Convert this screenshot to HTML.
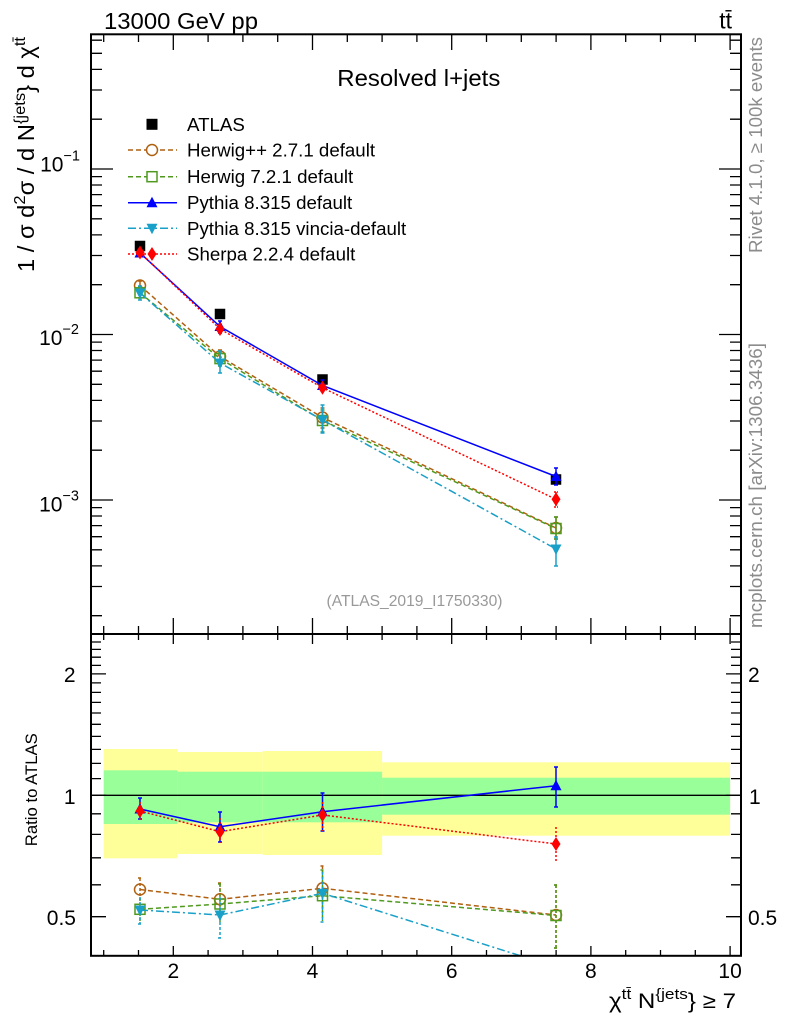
<!DOCTYPE html>
<html><head><meta charset="utf-8"><style>html,body{margin:0;padding:0;background:#fff}svg{display:block}</style></head>
<body>
<svg width="786" height="1024" viewBox="0 0 786 1024" xmlns="http://www.w3.org/2000/svg" xmlns:xlink="http://www.w3.org/1999/xlink" font-family="'Liberation Sans','DejaVu Sans',sans-serif">
<defs>
<clipPath id="cm"><rect x="91" y="34" width="650" height="600"/></clipPath>
<clipPath id="cr"><rect x="91" y="634" width="650" height="322"/></clipPath>
<g id="mly" stroke="#000" stroke-width="1.3" fill="none">
<path d="M91 119.2h11M91 90h11M91 69.4h11M91 53.3h11M91 40.2h11M91 284.7h11M91 255.5h11M91 234.9h11M91 218.8h11M91 205.7h11M91 194.6h11M91 185h11M91 176.6h11M91 450.2h11M91 421h11M91 400.4h11M91 384.3h11M91 371.2h11M91 360.1h11M91 350.5h11M91 342.1h11M91 615.7h11M91 586.5h11M91 565.9h11M91 549.8h11M91 536.7h11M91 525.6h11M91 516h11M91 507.6h11M91 169h22M91 334.5h22M91 500h22"/>
</g>
<g id="mtx" stroke="#000" stroke-width="1.3" fill="none">
<path d="M103.7 34v8M138.5 34v8M208.1 34v8M242.9 34v8M277.7 34v8M347.3 34v8M382.1 34v8M416.9 34v8M486.5 34v8M521.3 34v8M556.1 34v8M625.7 34v8M660.5 34v8M695.3 34v8M173.3 34v16M312.5 34v16M451.7 34v16M590.9 34v16M730.1 34v16"/>
</g>
<g id="rtx" stroke="#000" stroke-width="1.3" fill="none">
<path d="M103.7 634v6M138.5 634v6M208.1 634v6M242.9 634v6M277.7 634v6M347.3 634v6M382.1 634v6M416.9 634v6M486.5 634v6M521.3 634v6M556.1 634v6M625.7 634v6M660.5 634v6M695.3 634v6M173.3 634v10M312.5 634v10M451.7 634v10M590.9 634v10M730.1 634v10"/>
</g>
<g id="rly" stroke="#000" stroke-width="1.3" fill="none">
<path d="M91 642h10M91 649.4h10M91 657.2h10M91 665.4h10M91 682.9h10M91 692.4h10M91 702.4h10M91 713h10M91 724.3h10M91 736.4h10M91 749.4h10M91 763.4h10M91 778.6h10M91 813.8h10M91 834.4h10M91 857.8h10M91 884.8h10M91 673.9h15M91 795.3h15M91 916.7h15"/>
</g>
</defs>

<!-- ratio bands -->
<g>
<rect x="103.7" y="749" width="73.6" height="109.3" fill="#ffff99"/>
<rect x="177.3" y="752" width="85.4" height="102" fill="#ffff99"/>
<rect x="262.7" y="751" width="119.4" height="104" fill="#ffff99"/>
<rect x="382.1" y="762.3" width="348" height="73.4" fill="#ffff99"/>
<rect x="103.7" y="770.3" width="73.6" height="53.7" fill="#99ff99"/>
<rect x="177.3" y="771.7" width="85.4" height="50.6" fill="#99ff99"/>
<rect x="262.7" y="771.7" width="119.4" height="50.6" fill="#99ff99"/>
<rect x="382.1" y="777.7" width="348" height="37" fill="#99ff99"/>
</g>
<line x1="91" y1="795.3" x2="741" y2="795.3" stroke="#000" stroke-width="1.3"/>

<!-- ticks -->
<use xlink:href="#mly"/>
<use xlink:href="#mly" transform="translate(832,0) scale(-1,1)"/>
<use xlink:href="#mtx"/>
<use xlink:href="#mtx" transform="translate(0,668) scale(1,-1)"/>
<use xlink:href="#rtx"/>
<use xlink:href="#rtx" transform="translate(0,1590) scale(1,-1)"/>
<use xlink:href="#rly"/>
<use xlink:href="#rly" transform="translate(832,0) scale(-1,1)"/>

<!-- main panel data -->
<g clip-path="url(#cm)">
<rect x="134.75" y="240.75" width="10.5" height="10.5" fill="#000"/>
<rect x="214.75" y="308.75" width="10.5" height="10.5" fill="#000"/>
<rect x="317.25" y="374.25" width="10.5" height="10.5" fill="#000"/>
<rect x="550.75" y="474.25" width="10.5" height="10.5" fill="#000"/>

<!-- Herwig++ -->
<g stroke="#b06010" stroke-width="1.5" fill="none">
<polyline points="140,285.5 220,356.5 322.5,417.5 556,528" stroke-dasharray="5,3"/>
<path d="M140 281v10M220 350v12M322.5 408v20M556 517v22M138 281h4M138 291h4M218 350h4M218 362h4M320.5 408h4M320.5 428h4M554 517h4M554 539h4"/>
<circle cx="140" cy="285.5" r="5.5"/><circle cx="220" cy="356.5" r="5.5"/><circle cx="322.5" cy="417.5" r="5.5"/><circle cx="556" cy="528" r="5.5"/>
</g>
<!-- Herwig 7 -->
<g stroke="#4f9a1e" stroke-width="1.5" fill="none">
<polyline points="140,292.8 220,358.6 322.5,420.5 556,528.5" stroke-dasharray="5,3"/>
<path d="M140 287v11M220 352v14M322.5 410v22M556 517v22M138 287h4M138 298h4M218 352h4M218 366h4M320.5 410h4M320.5 432h4M554 517h4M554 539h4"/>
<rect x="135" y="287.8" width="10" height="10"/><rect x="215" y="353.6" width="10" height="10"/><rect x="317.5" y="415.5" width="10" height="10"/><rect x="551" y="523.5" width="10" height="10"/>
</g>
<!-- Pythia -->
<g stroke="#0000ff" stroke-width="1.5" fill="none">
<polyline points="140,253 220,326.5 322.5,385.5 556,476.5"/>
<path d="M140 249v8M220 321v12M322.5 380v11M556 468v17M218 321h4M218 333h4M320.5 380h4M320.5 391h4M554 468h4M554 485h4"/>
</g>
<g fill="#0000ff">
<polygon points="134.5,257.5 145.5,257.5 140,247"/><polygon points="214.5,331 225.5,331 220,320.5"/><polygon points="317,390 328,390 322.5,379.5"/><polygon points="550.5,481 561.5,481 556,470.5"/>
</g>
<!-- Vincia -->
<g stroke="#19a0c8" stroke-width="1.5" fill="none">
<polyline points="140,293 220,363 322.5,420 556,549" stroke-dasharray="8,3,2,3"/>
<path d="M140 286v14M220 351v22M322.5 405v28M556 537v29M138 286h4M138 300h4M218 351h4M218 373h4M320.5 405h4M320.5 433h4M554 537h4M554 566h4"/>
</g>
<g fill="#19a0c8">
<polygon points="134.5,288.5 145.5,288.5 140,299"/><polygon points="214.5,358.5 225.5,358.5 220,369"/><polygon points="317,415.5 328,415.5 322.5,426"/><polygon points="550.5,544.5 561.5,544.5 556,555"/>
</g>
<!-- Sherpa -->
<g stroke="#ff0000" stroke-width="1.5" fill="none">
<polyline points="140,252.5 220,329 322.5,387.8 556,499.3" stroke-dasharray="2,2"/>
<path d="M556 492v15M554 492h4M554 507h4" stroke-dasharray="2,1"/>
</g>
<g fill="#ff0000">
<polygon points="140,245.5 144.5,252.5 140,259.5 135.5,252.5"/><polygon points="220,322 224.5,329 220,336 215.5,329"/><polygon points="322.5,380.8 327,387.8 322.5,394.8 318,387.8"/><polygon points="556,492.3 560.5,499.3 556,506.3 551.5,499.3"/>
</g>
</g>

<!-- ratio panel data -->
<g clip-path="url(#cr)">
<g stroke="#b06010" stroke-width="1.5" fill="none">
<polyline points="140,889.5 220,899.3 322.5,888.3 556,915" stroke-dasharray="5,3"/>
<path d="M140 878v22M220 883v32M322.5 866v47M556 885v63M138 878h4M218 883h4M320.5 866h4M554 885h4M554 948h4" stroke-dasharray="3,2"/>
<circle cx="140" cy="889.5" r="5.5"/><circle cx="220" cy="899.3" r="5.5"/><circle cx="322.5" cy="888.3" r="5.5"/><circle cx="556" cy="915" r="5.5"/>
</g>
<g stroke="#4f9a1e" stroke-width="1.5" fill="none">
<polyline points="140,909.3 220,904 322.5,895.7 556,915.5" stroke-dasharray="5,3"/>
<path d="M140 898v24M220 884v39M322.5 870v51M556 885v63M218 884h4M320.5 870h4M554 885h4M554 948h4" stroke-dasharray="3,2"/>
<rect x="135" y="904.3" width="10" height="10"/><rect x="215" y="899" width="10" height="10"/><rect x="317.5" y="890.7" width="10" height="10"/><rect x="551" y="910.5" width="10" height="10"/>
</g>
<g stroke="#0000ff" stroke-width="1.5" fill="none">
<polyline points="140,809 220,826.7 322.5,811.7 556,785.7"/>
<path d="M140 798v21M220 812v30M322.5 793v38M556 767v40M138 798h4M138 819h4M218 812h4M218 842h4M320.5 793h4M320.5 831h4M554 767h4M554 807h4"/>
</g>
<g fill="#0000ff">
<polygon points="134.5,813.5 145.5,813.5 140,803"/><polygon points="214.5,831.2 225.5,831.2 220,820.7"/><polygon points="317,816.2 328,816.2 322.5,805.7"/><polygon points="550.5,790.2 561.5,790.2 556,779.7"/>
</g>
<g stroke="#19a0c8" stroke-width="1.5" fill="none">
<polyline points="140,910 220,915 322.5,893.3 556,967" stroke-dasharray="8,3,2,3"/>
<path d="M140 897v27M220 897v41M322.5 872v50M138 924h4M218 938h4M320.5 922h4" stroke-dasharray="3,2"/>
</g>
<g fill="#19a0c8">
<polygon points="134.5,905.5 145.5,905.5 140,916"/><polygon points="214.5,910.5 225.5,910.5 220,921"/><polygon points="317,888.8 328,888.8 322.5,899.3"/>
</g>
<g stroke="#ff0000" stroke-width="1.5" fill="none">
<polyline points="140,811 220,831.7 322.5,815 556,844" stroke-dasharray="2,2"/>
<path d="M140 802v20M220 818v25M322.5 802v29M556 827v35" stroke-dasharray="2,2"/>
</g>
<g fill="#ff0000">
<polygon points="140,804 144.5,811 140,818 135.5,811"/><polygon points="220,824.7 224.5,831.7 220,838.7 215.5,831.7"/><polygon points="322.5,808 327,815 322.5,822 318,815"/><polygon points="556,837 560.5,844 556,851 551.5,844"/>
</g>
</g>

<!-- frames -->
<rect x="91" y="34.3" width="650" height="599.7" fill="none" stroke="#000" stroke-width="2"/>
<rect x="91" y="634" width="650" height="321.8" fill="none" stroke="#000" stroke-width="2"/>

<!-- legend -->
<g>
<rect x="146.5" y="118.8" width="11" height="11" fill="#000"/>
<line x1="128" y1="150" x2="177" y2="150" stroke="#b06010" stroke-width="1.5" stroke-dasharray="5,3"/>
<circle cx="152" cy="150" r="5.5" fill="#fff" stroke="#b06010" stroke-width="1.5"/>
<line x1="128" y1="176.7" x2="177" y2="176.7" stroke="#4f9a1e" stroke-width="1.5" stroke-dasharray="5,3"/>
<rect x="147" y="171.7" width="10" height="10" fill="#fff" stroke="#4f9a1e" stroke-width="1.5"/>
<line x1="128" y1="202.7" x2="177" y2="202.7" stroke="#0000ff" stroke-width="1.5"/>
<polygon points="146.5,207.2 157.5,207.2 152,196.7" fill="#0000ff"/>
<line x1="128" y1="228.3" x2="177" y2="228.3" stroke="#19a0c8" stroke-width="1.5" stroke-dasharray="8,3,2,3"/>
<polygon points="146.5,223.8 157.5,223.8 152,234.3" fill="#19a0c8"/>
<line x1="128" y1="254" x2="177" y2="254" stroke="#ff0000" stroke-width="1.5" stroke-dasharray="2,2"/>
<polygon points="152,247 156.5,254 152,261 147.5,254" fill="#ff0000"/>
<g font-size="18.7" fill="#000">
<text x="187" y="130.8">ATLAS</text>
<text x="187" y="156.5">Herwig++ 2.7.1 default</text>
<text x="187" y="183">Herwig 7.2.1 default</text>
<text x="187" y="209">Pythia 8.315 default</text>
<text x="187" y="235">Pythia 8.315 vincia-default</text>
<text x="187" y="260.5">Sherpa 2.2.4 default</text>
</g>
</g>

<!-- labels -->
<text x="104" y="29" font-size="23.5" textLength="154" lengthAdjust="spacingAndGlyphs">13000 GeV pp</text>
<text x="732" y="28.5" font-size="23" text-anchor="end">tt̄</text>
<text x="337.3" y="86" font-size="23.5" textLength="163" lengthAdjust="spacingAndGlyphs">Resolved l+jets</text>
<text x="414.5" y="606" font-size="15.5" fill="#999" text-anchor="middle" textLength="176" lengthAdjust="spacingAndGlyphs">(ATLAS_2019_I1750330)</text>

<text transform="translate(762,37) rotate(-90)" text-anchor="end" font-size="18.5" fill="#8c8c8c" textLength="216" lengthAdjust="spacingAndGlyphs">Rivet 4.1.0, ≥ 100k events</text>
<text transform="translate(762,343) rotate(-90)" text-anchor="end" font-size="18.5" fill="#8c8c8c" textLength="285" lengthAdjust="spacingAndGlyphs">mcplots.cern.ch [arXiv:1306.3436]</text>

<text transform="translate(34,37) rotate(-90)" text-anchor="end" font-size="23" textLength="235" lengthAdjust="spacingAndGlyphs">1 / σ d<tspan dy="-9" font-size="16">2</tspan><tspan dy="9">σ / d N</tspan><tspan dy="-9" font-size="16">{jets</tspan><tspan dy="9">} d χ</tspan><tspan dy="-9" font-size="16">tt̄</tspan></text>

<text transform="translate(37,789.7) rotate(-90)" text-anchor="middle" font-size="16.5" textLength="113" lengthAdjust="spacingAndGlyphs">Ratio to ATLAS</text>

<text x="736" y="1008" text-anchor="end" font-size="21" textLength="127" lengthAdjust="spacingAndGlyphs">χ<tspan dy="-9" font-size="15">tt̄</tspan><tspan dy="9"> N</tspan><tspan dy="-9" font-size="15">{jets</tspan><tspan dy="9">} ≥ 7</tspan></text>

<!-- main y tick labels -->
<g font-size="21" text-anchor="end">
<text x="80" y="171.5">10<tspan dy="-11" font-size="14.5">−1</tspan></text>
<text x="79" y="345">10<tspan dy="-11" font-size="14.5">−2</tspan></text>
<text x="79" y="511.5">10<tspan dy="-11" font-size="14.5">−3</tspan></text>
</g>
<!-- ratio y tick labels -->
<g font-size="21" text-anchor="end">
<text x="75.5" y="682">2</text>
<text x="75.5" y="804">1</text>
<text x="76" y="925">0.5</text>
</g>
<g font-size="21">
<text x="748" y="682">2</text>
<text x="749" y="804">1</text>
<text x="748" y="925">0.5</text>
</g>
<!-- x tick labels -->
<g font-size="21" text-anchor="middle">
<text x="173.3" y="978">2</text>
<text x="312.5" y="978">4</text>
<text x="451.7" y="978">6</text>
<text x="590.9" y="978">8</text>
<text x="730.1" y="978">10</text>
</g>
</svg>
</body></html>
